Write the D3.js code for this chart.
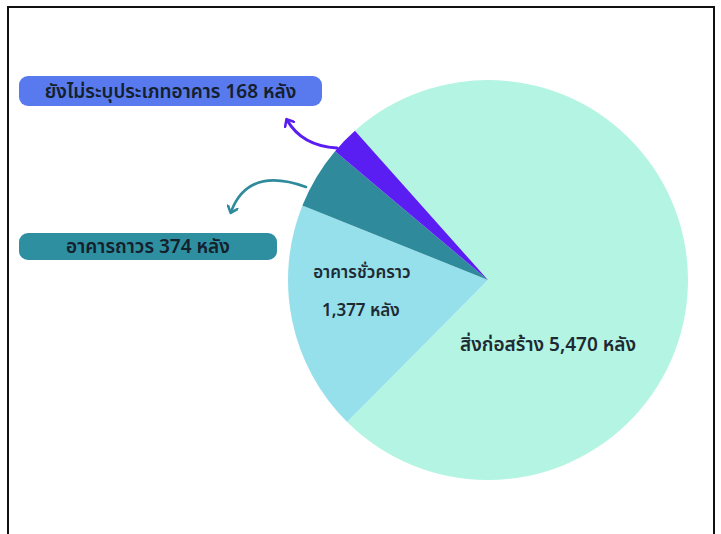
<!DOCTYPE html>
<html>
<head>
<meta charset="utf-8">
<script src="https://cdn.jsdelivr.net/npm/d3@7"></script>
<style>
  body { margin: 0; background: #fff; }
  text { font-family: "Noto Sans", "Noto Sans Thai", sans-serif; font-weight: 600; fill: #1e2a33; }
</style>
</head>
<body>
<div id="chart"></div>
<script>
const CATEGORIES = ["สิ่งก่อสร้าง", "อาคารชั่วคราว", "อาคารถาวร", "ยังไม่ระบุประเภทอาคาร"];
const VALUES = [5470, 1377, 374, 168];
const COLORS = ["#b3f5e2", "#96e0ec", "#2f8b9b", "#5a1df2"];

const WIDTH = 721, HEIGHT = 534;
const CENTER = { x: 488, y: 280 };
const RADIUS = 200;

const svg = d3.select("#chart").append("svg")
    .attr("width", WIDTH)
    .attr("height", HEIGHT);

// frame
svg.append("rect")
    .attr("x", 8).attr("y", 7)
    .attr("width", 706).attr("height", 560)
    .attr("fill", "none")
    .attr("stroke", "#111")
    .attr("stroke-width", 2);

const data = CATEGORIES.map((c, i) => ({ name: c, value: VALUES[i], color: COLORS[i] }));

const pie = d3.pie()
    .value(d => d.value)
    .sort(null)
    .startAngle(-0.728)
    .endAngle(-0.728 + 2 * Math.PI);

const arc = d3.arc().innerRadius(0).outerRadius(RADIUS);

const g = svg.append("g")
    .attr("transform", "translate(" + CENTER.x + "," + CENTER.y + ")");

const arcs = pie(data);

g.selectAll("path")
    .data(arcs)
    .enter()
    .append("path")
    .attr("d", arc)
    .attr("fill", d => d.data.color);

const fmt = d3.format(",");

// label inside light blue slice
const lbArc = d3.arc().innerRadius(140).outerRadius(140);
const c1 = lbArc.centroid(arcs[1]);
const t1 = g.append("text")
    .attr("text-anchor", "middle")
    .attr("font-size", 17);
t1.append("tspan").attr("x", c1[0] + 11).attr("y", c1[1] - 30).text(CATEGORIES[1]);
t1.append("tspan").attr("x", c1[0] + 10).attr("y", c1[1] + 8).text(fmt(VALUES[1]) + " หลัง");

// label inside big slice
g.append("text")
    .attr("x", 60).attr("y", 71)
    .attr("text-anchor", "middle")
    .attr("font-size", 19)
    .text(CATEGORIES[0] + " " + fmt(VALUES[0]) + " หลัง");

// arrow markers
const defs = svg.append("defs");
[["arrPurple", COLORS[3]], ["arrTeal", COLORS[2]]].forEach(([id, col]) => {
    defs.append("marker")
        .attr("id", id)
        .attr("viewBox", "0 0 12 12")
        .attr("refX", 6).attr("refY", 6)
        .attr("markerWidth", 12).attr("markerHeight", 12)
        .attr("markerUnits", "userSpaceOnUse")
        .attr("orient", "auto")
        .append("path")
        .attr("d", "M1,1 L7,6 L1,11")
        .attr("fill", "none")
        .attr("stroke", col)
        .attr("stroke-width", 2.6)
        .attr("stroke-linecap", "round")
        .attr("stroke-linejoin", "round");
});

svg.append("path")
    .attr("d", "M337,148 Q302,146 287,120")
    .attr("fill", "none")
    .attr("stroke", COLORS[3])
    .attr("stroke-width", 3)
    .attr("stroke-linecap", "round")
    .attr("marker-end", "url(#arrPurple)");

svg.append("path")
    .attr("d", "M306,187 Q248,166 231,212")
    .attr("fill", "none")
    .attr("stroke", COLORS[2])
    .attr("stroke-width", 2.6)
    .attr("stroke-linecap", "round")
    .attr("marker-end", "url(#arrTeal)");

// callout boxes
const callouts = [
    { i: 3, x: 19, y: 76, w: 303, h: 30, fill: "#5979ef", size: 19 },
    { i: 2, x: 19, y: 233, w: 258, h: 27, fill: "#2e8fa0", size: 19 }
];
callouts.forEach(c => {
    svg.append("rect")
        .attr("x", c.x).attr("y", c.y)
        .attr("width", c.w).attr("height", c.h)
        .attr("rx", 9)
        .attr("fill", c.fill);
    svg.append("text")
        .attr("x", c.x + c.w / 2)
        .attr("y", c.y + c.h / 2)
        .attr("dy", "0.35em")
        .attr("text-anchor", "middle")
        .attr("font-size", c.size)
        .attr("font-weight", 700)
        .style("fill", "#14202b")
        .text(CATEGORIES[c.i] + " " + fmt(VALUES[c.i]) + " หลัง");
});
</script>
</body>
</html>
